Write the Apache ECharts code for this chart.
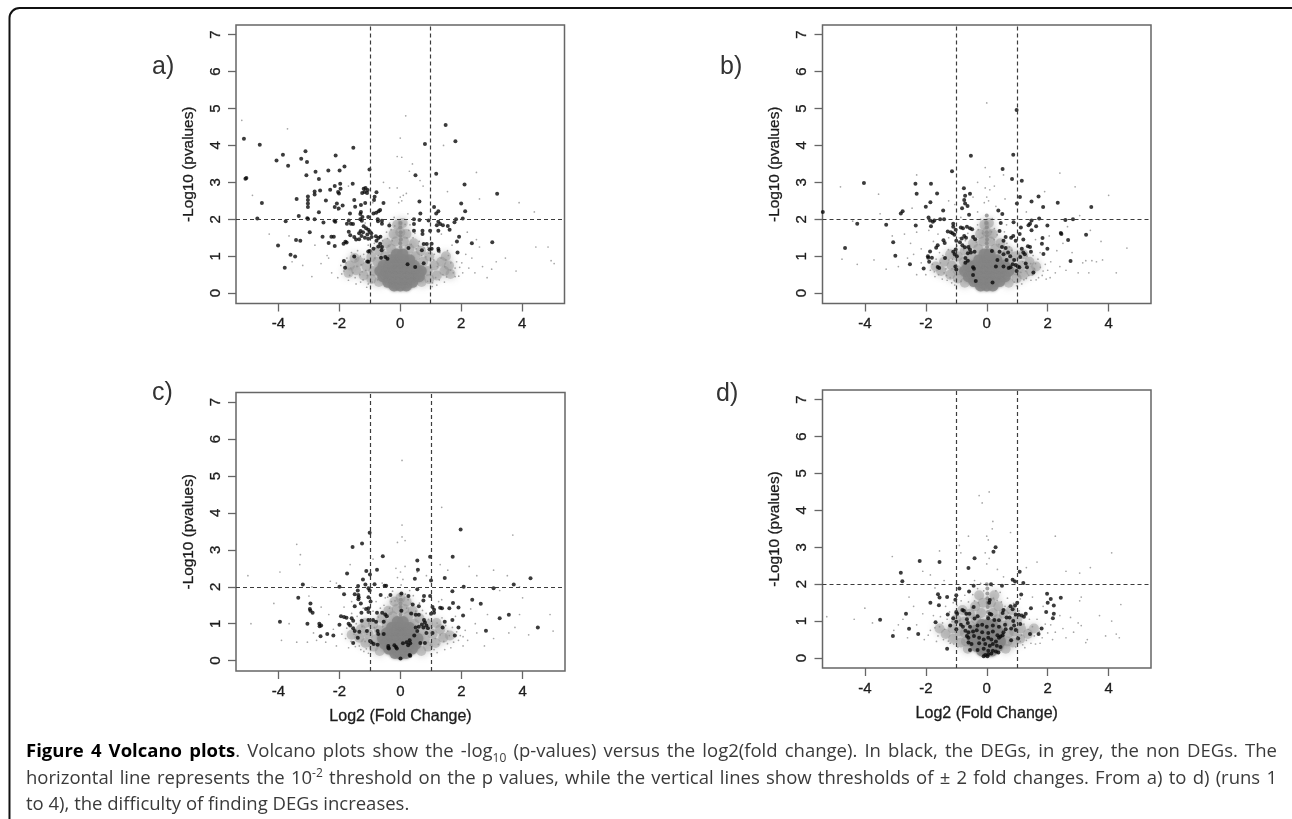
<!DOCTYPE html>
<html>
<head>
<meta charset="utf-8">
<title>Volcano plots</title>
<script src="https://cdn.jsdelivr.net/npm/echarts@6/dist/echarts.min.js"></script>
<style>
  html, body { margin: 0; padding: 0; background: #fff; overflow: hidden; }
  #chart { position: absolute; left: 0; top: 0; width: 1292px; height: 819px; filter: blur(0.35px); }
  .cap { position: absolute; left: 26px; width: 1251px; font: 18.5px/26px "Open Sans", sans-serif; color: #3a3a3a;
         text-align: justify; text-align-last: justify; white-space: nowrap; filter: blur(0.3px); }
  .cap b { color: #000; }
  .cap sub, .cap sup { font-size: 12px; line-height: 0; }
</style>
</head>
<body>
<div id="chart"></div>
<div class="cap" style="top:737px"><b>Figure 4 Volcano plots</b>. Volcano plots show the -log<sub>10</sub> (p-values) versus the log2(fold change). In black, the DEGs, in grey, the non DEGs. The</div>
<div class="cap" style="top:764px">horizontal line represents the 10<sup>-2</sup> threshold on the p values, while the vertical lines show thresholds of ± 2 fold changes. From a) to d) (runs 1</div>
<div class="cap" style="top:790px;text-align-last:left">to 4), the difficulty of finding DEGs increases.</div>
<script>
const xTicks = [-4, -2, 0, 2, 4]
const yTicks = [0, 1, 2, 3, 4, 5, 6, 7]
const pThreshold = 2
const foldThresholds = [-1, 1]
const xName = 'Log2 (Fold Change)'
const yName = '-Log10 (pvalues)'

// black points, DEGs
const degA = [[-5.13,4.18],[-4.61,4.02],[-5.08,3.1],[-5.05,3.12],[-4.54,2.44],[-4.69,2.02],[-4.06,3.59],[-3.85,3.75],[-3.68,3.45],[-3.11,3.84],[-3.25,3.64],[-3.06,3.55],[-3.08,3.19],[-2.78,3.29],[-2.67,3.09],[-2.36,3.32],[-1.99,3.32],[-1.83,3.43],[-2.12,3.73],[-1.54,3.94],[-1.01,3.35],[-1.56,2.96],[-1.97,2.96],[-2.15,2.9],[-1.96,2.83],[-2.3,2.8],[-2.04,2.74],[-2.01,2.7],[-2.63,2.78],[-2.81,2.75],[-2.81,2.67],[-3.03,2.62],[-3.4,2.55],[-3.03,2.52],[-3.03,2.43],[-3.03,2.33],[-2.44,2.51],[-2.08,2.43],[-2.15,2.33],[-2.02,2.29],[-1.89,2.37],[-2.67,2.19],[-3.33,2.09],[-3.05,2.03],[-3.03,2.01],[-2.81,2.0],[-3.76,1.95],[-2.52,1.91],[-2.16,1.96],[-2.13,1.93],[-1.65,2.16],[-1.51,2.52],[-1.29,2.39],[-1.15,2.44],[-1.48,2.34],[-1.25,2.71],[-1.2,2.83],[-1.14,2.85],[-1.07,2.79],[-1.17,2.74],[-1.09,2.71],[-0.78,2.73],[-0.84,2.61],[-0.86,2.52],[-0.55,2.44],[-0.66,2.25],[-0.71,2.22],[-0.79,2.18],[-0.88,2.16],[-1.29,2.2],[-1.31,2.14],[-1.24,2.06],[-1.05,2.06],[-0.74,2.0],[-0.73,1.95],[-0.6,1.96],[-0.6,1.88],[-1.31,2.0],[-1.26,1.96],[-1.69,1.97],[-1.62,1.88],[-1.75,1.88],[-1.55,1.87],[-1.69,1.66],[-1.64,1.57],[-1.51,1.52],[-1.2,1.81],[-1.12,1.76],[-1.05,1.72],[-1.0,1.66],[-0.95,1.62],[-1.08,1.59],[-1.22,1.65],[-1.3,1.68],[-1.35,1.62],[-1.27,1.55],[-1.16,1.5],[-1.05,1.47],[-0.94,1.52],[-0.8,1.54],[-0.72,1.49],[-0.65,1.53],[-0.78,1.42],[-0.66,1.34],[-0.6,1.25],[-0.72,1.26],[-1.0,1.14],[-1.05,1.13],[-0.88,1.2],[-0.61,1.16],[-1.35,1.46],[-1.45,1.45],[-1.86,1.34],[-1.8,1.39],[-1.76,1.37],[-4.01,1.29],[-3.6,1.04],[-3.45,0.99],[-3.79,0.69],[-3.42,1.44],[-3.28,1.42],[-2.97,1.65],[-2.55,1.53],[-2.26,1.53],[-2.18,1.53],[-2.35,1.36],[-2.15,1.28],[-1.51,0.99],[-1.85,0.87],[-1.81,0.69],[-1.04,0.85],[-1.08,0.86],[-0.63,0.96],[-0.49,0.98],[-0.42,0.93],[-0.36,1.83],[1.49,4.55],[1.81,4.11],[0.81,4.04],[0.5,3.19],[1.18,3.23],[2.11,2.94],[3.18,2.69],[0.63,2.48],[2.0,2.43],[1.11,2.33],[1.25,2.22],[2.13,2.22],[1.18,2.16],[0.66,2.16],[0.45,2.0],[0.63,1.98],[0.93,1.97],[1.83,2.0],[2.05,2.02],[1.25,1.93],[1.31,1.87],[1.2,1.84],[1.4,1.84],[1.78,1.92],[1.56,1.82],[1.62,1.72],[1.25,1.69],[0.98,1.69],[0.73,1.69],[0.73,1.6],[0.45,1.69],[0.45,1.87],[1.93,1.53],[1.86,1.4],[2.35,1.35],[3.02,1.38],[1.03,1.34],[0.77,1.33],[0.87,1.33],[0.71,1.16],[1.03,1.2],[0.96,1.19],[1.25,1.2],[1.26,1.15],[1.88,1.1],[0.77,0.81],[0.49,0.71],[0.24,0.78],[0.27,1.22]]
const degB = [[0.98,4.96],[-0.52,3.72],[0.87,3.75],[-1.14,3.3],[0.52,3.36],[0.83,3.09],[1.15,3.04],[-4.03,2.98],[-2.34,2.96],[-1.83,2.96],[-2.3,2.69],[-1.63,2.7],[-0.75,2.84],[-0.71,2.64],[-0.55,2.69],[-0.74,2.52],[-0.71,2.43],[-0.63,2.36],[-0.81,2.3],[-0.58,2.12],[-1.85,2.46],[-2.0,2.34],[-1.43,2.24],[-2.76,2.22],[-2.82,2.16],[-5.38,2.2],[-4.25,1.88],[-3.3,1.85],[-2.33,1.83],[-1.83,1.81],[-1.91,2.05],[-1.86,1.97],[-1.77,1.93],[-1.72,1.97],[-1.53,2.0],[-1.4,2.0],[1.09,2.6],[0.99,2.43],[1.47,2.48],[1.7,2.62],[2.33,2.45],[3.43,2.33],[1.85,2.33],[0.38,2.24],[0.51,2.14],[1.72,2.02],[1.47,1.97],[2.58,1.98],[2.83,2.0],[1.42,1.88],[1.37,1.84],[1.62,1.81],[1.99,1.83],[1.47,1.7],[2.43,1.63],[2.45,1.6],[3.26,1.58],[1.83,1.49],[2.67,1.44],[1.81,1.34],[1.99,1.2],[1.86,1.06],[2.75,0.87],[1.53,0.56],[-3.07,1.38],[-4.65,1.22],[-3.0,1.01],[-2.52,0.78],[-2.07,0.67],[-1.61,0.71],[-1.56,0.68],[-1.37,0.95],[-1.42,1.43],[-1.38,1.36],[-1.61,1.3],[-1.66,1.23],[-1.86,1.13],[-1.93,1.0],[-1.92,0.96],[-1.8,0.96],[-1.89,0.85],[0.19,0.29],[-0.36,0.33],[-0.45,0.49],[-1.1,1.88],[-1.1,1.8],[-0.85,1.78],[-0.78,1.76],[-0.65,1.8],[-0.55,1.76],[-0.48,1.73],[-1.02,1.72],[-1.28,1.67],[-1.18,1.65],[-1.12,1.62],[-1.06,1.58],[-0.74,1.55],[-0.68,1.5],[-0.82,1.48],[-0.45,1.52],[-0.38,1.46],[-1.0,1.42],[-0.88,1.38],[-0.8,1.3],[-0.72,1.24],[-1.02,1.18],[-1.1,1.12],[-1.05,1.05],[-0.98,1.0],[-0.6,1.25],[-0.55,1.18],[-0.52,1.1],[-0.62,1.08],[-0.4,1.12],[-0.7,0.95],[-0.62,0.88],[-0.7,0.82],[-0.45,0.7],[-0.42,0.66],[-1.03,0.72],[-1.0,0.64],[1.12,1.78],[1.08,1.6],[1.2,1.45],[0.87,1.55],[0.8,1.5],[0.95,1.42],[0.62,1.52],[0.55,1.42],[0.42,1.68],[0.46,1.9],[0.88,1.92],[0.5,1.25],[0.42,1.12],[0.62,1.22],[0.7,1.1],[0.55,1.05],[0.77,1.0],[0.65,0.9],[0.35,0.9],[0.3,0.72],[0.55,0.72],[0.72,0.68],[0.78,0.7],[0.85,0.78],[0.95,0.76],[1.02,0.72],[1.07,0.7],[0.98,0.6],[0.9,0.9],[1.15,1.2],[1.2,1.1],[1.25,1.05],[1.35,1.27],[1.42,1.25],[1.45,1.12],[1.1,0.98],[1.32,0.7],[0.17,1.14],[1.28,0.8]]
const degC = [[-1.01,3.46],[-1.57,3.08],[-1.26,3.17],[-0.58,2.83],[0.55,2.71],[0.97,2.81],[1.71,2.81],[1.97,3.55],[0.57,2.46],[-0.77,2.46],[-1.12,2.43],[-1.75,2.36],[-1.0,2.33],[0.47,2.22],[1.0,2.17],[1.45,2.24],[4.26,2.23],[-1.23,2.2],[-0.85,2.07],[-1.15,2.06],[-3.2,2.06],[3.71,2.06],[-1.39,2.02],[-0.52,2.03],[-0.47,2.03],[-2.0,2.0],[-1.05,1.96],[2.07,2.0],[3.05,1.96],[-1.01,1.9],[-1.4,1.9],[0.55,1.93],[1.7,1.88],[0.03,1.82],[-1.85,1.8],[-1.5,1.8],[-1.38,1.78],[-0.33,1.78],[-0.65,1.78],[-1.05,1.72],[-1.38,1.66],[-1.37,1.72],[0.26,1.75],[0.77,1.75],[0.97,1.75],[0.75,1.63],[2.35,1.65],[-3.35,1.7],[1.72,1.56],[2.63,1.54],[-2.95,1.55],[-1.3,1.55],[-0.98,1.6],[0.4,1.52],[0.6,1.47],[1.05,1.45],[1.3,1.43],[1.36,1.42],[1.6,1.42],[1.9,1.44],[-1.5,1.47],[-1.13,1.4],[-1.05,1.42],[-2.97,1.4],[-2.95,1.35],[-2.88,1.3],[-1.05,1.32],[-1.28,1.3],[-0.77,1.3],[-0.6,1.3],[-0.5,1.25],[-0.45,1.2],[0.03,1.35],[0.35,1.28],[0.5,1.24],[0.6,1.24],[1.0,1.27],[1.1,1.3],[1.1,1.38],[2.05,1.22],[3.55,1.24],[-1.95,1.2],[-1.85,1.18],[-1.77,1.16],[-1.6,1.15],[-1.55,1.08],[-1.27,1.08],[-1.05,1.1],[-0.9,1.1],[-0.8,1.05],[-0.55,1.05],[0.77,1.1],[0.8,1.03],[3.25,1.15],[1.7,1.1],[1.45,1.05],[-3.95,1.05],[-3.05,1.0],[-2.66,1.0],[-2.6,0.95],[-2.65,0.93],[-2.0,0.97],[-1.7,1.0],[-1.65,0.95],[-1.55,0.88],[0.6,0.92],[0.5,0.9],[0.7,0.98],[0.75,0.9],[0.85,0.95],[0.9,0.88],[1.9,0.9],[1.38,0.9],[4.5,0.9],[2.8,0.81],[-1.5,0.8],[-1.35,0.78],[-1.1,0.8],[-0.75,0.8],[-0.73,0.72],[-0.55,0.72],[0.45,0.68],[0.55,0.8],[0.85,0.75],[1.05,0.75],[1.78,0.68],[-2.62,0.66],[-2.4,0.72],[-2.2,0.68],[-1.4,0.62],[-1.55,0.48],[-1.0,0.53],[-0.95,0.5],[-0.88,0.45],[-0.75,0.43],[-0.4,0.4],[-0.4,0.35],[-0.38,0.33],[-0.2,0.42],[-0.15,0.37],[-0.12,0.33],[0.08,0.47],[0.2,0.5],[0.25,0.42],[0.3,0.55],[0.32,0.47],[0.65,0.48],[0.8,0.48],[0.3,0.15],[0.32,0.13],[0.0,0.06]]
const degD = [[0.29,3.0],[0.22,2.88],[-0.4,2.7],[-2.2,2.63],[-1.55,2.6],[-0.6,2.44],[-2.82,2.31],[-2.77,2.08],[1.08,2.34],[0.85,2.12],[0.93,2.07],[1.2,2.03],[0.14,2.0],[-0.43,1.96],[0.5,1.96],[-0.9,1.88],[1.98,1.74],[-1.6,1.73],[-1.55,1.64],[-1.3,1.65],[-1.0,1.7],[-1.03,1.58],[-0.58,1.8],[1.13,1.72],[2.43,1.63],[2.1,1.6],[0.1,1.57],[0.08,1.5],[-1.85,1.5],[1.0,1.5],[0.93,1.42],[2.0,1.5],[2.2,1.42],[-1.57,1.43],[0.78,1.4],[0.85,1.32],[1.45,1.35],[-0.8,1.3],[-0.75,1.28],[0.55,1.3],[0.52,1.22],[-1.0,1.25],[-0.97,1.2],[-0.43,1.38],[-0.67,1.2],[-0.57,1.2],[-0.3,1.13],[0.1,1.2],[0.15,1.18],[0.65,1.1],[0.95,1.18],[1.05,1.17],[1.15,1.15],[1.28,1.2],[1.22,1.12],[1.95,1.25],[2.2,1.2],[2.17,1.08],[-2.65,1.2],[-1.28,1.18],[-3.5,1.04],[-1.1,1.08],[-1.0,0.98],[-0.65,1.05],[-0.4,1.07],[0.05,1.08],[0.25,1.03],[0.4,1.02],[0.75,1.1],[0.87,1.0],[1.1,0.92],[0.9,0.88],[-1.68,0.97],[-1.2,0.88],[-1.0,0.78],[-0.85,0.9],[-0.78,0.85],[-0.62,0.95],[-0.55,0.85],[-0.3,0.88],[-0.15,0.9],[0.0,0.85],[0.2,0.88],[0.4,0.85],[0.6,0.9],[0.8,0.8],[0.95,0.76],[1.8,0.8],[-2.55,0.79],[-0.7,0.74],[-0.6,0.7],[-0.45,0.72],[-0.33,0.75],[-0.15,0.7],[0.05,0.68],[0.2,0.72],[0.35,0.62],[0.45,0.58],[0.52,0.62],[0.55,0.7],[0.62,0.78],[1.42,0.65],[1.7,0.65],[-2.25,0.65],[-3.08,0.6],[-0.65,0.6],[-0.6,0.55],[-0.42,0.6],[-0.25,0.55],[-0.1,0.5],[0.05,0.55],[0.15,0.5],[0.3,0.45],[0.4,0.55],[0.8,0.48],[1.03,0.53],[-0.6,0.42],[-0.5,0.38],[-0.25,0.4],[-0.05,0.38],[0.1,0.33],[0.2,0.38],[0.33,0.33],[0.45,0.3],[-1.3,0.25],[-0.55,0.22],[-0.3,0.22],[-0.1,0.25],[0.05,0.2],[0.2,0.2],[0.3,0.18],[0.38,0.15],[0.15,0.12],[-0.1,0.05],[-0.05,0.08],[0.02,0.05],[0.05,0.1]]

// dense centre of each cloud
const coreA = [[-0.2,0.2],[0,0.2],[0.2,0.2],[-0.4,0.3],[-0.2,0.3],[0,0.3],[0.2,0.3],[0.4,0.3],[-0.56,0.45],[-0.35,0.45],[-0.15,0.45],[0.05,0.45],[0.25,0.45],[0.45,0.45],[0.62,0.45],[-0.66,0.6],[-0.45,0.6],[-0.25,0.6],[-0.05,0.6],[0.15,0.6],[0.35,0.6],[0.55,0.6],[0.68,0.6],[-0.55,0.75],[-0.35,0.75],[-0.15,0.75],[0.05,0.75],[0.25,0.75],[0.45,0.75],[-0.3,0.9],[-0.1,0.9],[0.1,0.9],[0.3,0.9],[-0.12,1.05],[0.08,1.05]]
const coreB = [[-0.2,0.2],[0,0.2],[0.2,0.2],[-0.42,0.32],[-0.2,0.32],[0,0.32],[0.2,0.32],[0.42,0.32],[-0.6,0.45],[-0.4,0.45],[-0.2,0.45],[0,0.45],[0.2,0.45],[0.4,0.45],[0.6,0.45],[-0.72,0.6],[-0.5,0.6],[-0.3,0.6],[-0.1,0.6],[0.1,0.6],[0.3,0.6],[0.5,0.6],[0.72,0.6],[-0.6,0.75],[-0.4,0.75],[-0.2,0.75],[0,0.75],[0.2,0.75],[0.4,0.75],[0.58,0.75],[-0.25,0.9],[-0.05,0.9],[0.15,0.9],[0.32,0.9],[-0.08,1.05],[0.1,1.05]]
const coreC = [[-0.18,0.2],[0,0.18],[0.18,0.2],[-0.38,0.32],[-0.18,0.32],[0,0.32],[0.18,0.32],[0.38,0.32],[-0.52,0.45],[-0.32,0.45],[-0.12,0.45],[0.08,0.45],[0.28,0.45],[0.5,0.45],[-0.58,0.6],[-0.4,0.6],[-0.2,0.6],[0,0.6],[0.2,0.6],[0.4,0.6],[0.56,0.6],[-0.45,0.75],[-0.25,0.75],[-0.05,0.75],[0.15,0.75],[0.35,0.75],[-0.28,0.9],[-0.08,0.9],[0.12,0.9],[0.28,0.9],[-0.1,1.05],[0.08,1.05]]
const coreD = [[-0.16,0.2],[0.02,0.18],[0.18,0.2],[-0.34,0.32],[-0.16,0.32],[0.02,0.32],[0.2,0.32],[0.36,0.32],[-0.45,0.45],[-0.28,0.45],[-0.1,0.45],[0.08,0.45],[0.26,0.45],[0.44,0.45],[-0.5,0.6],[-0.32,0.6],[-0.14,0.6],[0.04,0.6],[0.22,0.6],[0.4,0.6],[-0.36,0.75],[-0.18,0.75],[0,0.75],[0.18,0.75],[0.34,0.75],[-0.16,0.9],[0.02,0.9],[0.18,0.9]]

// narrow column above the centre
const spireA = [[0.02,1.15],[0.01,1.25],[0,1.35],[0.02,1.45],[0,1.55],[0.01,1.65],[0,1.78],[0.01,1.9]]
const spireB = [[0,1.15],[0.01,1.25],[0,1.35],[0.01,1.45],[0,1.55],[0,1.65],[0,1.78],[-0.01,1.9],[0,2.1]]
const spireC = [[0,1.15],[0,1.25],[0.01,1.35],[0,1.45],[0,1.55],[0.01,1.65],[0,1.78]]
const spireD = [[0.02,1.0],[0.03,1.12],[0.04,1.25],[0.03,1.38],[0.03,1.5],[0.02,1.62],[0.02,1.75],[0.02,1.88],[0,2.0]]

// halo round the centre, drawn see-through
const hazeA = [[-0.7,0.3],[0.7,0.3],[-0.95,0.38],[0.95,0.38],[-1.2,0.48],[1.2,0.48],[-1.45,0.62],[1.45,0.6],[-0.88,0.6],[0.9,0.6],[-1.1,0.72],[1.12,0.75],[-1.35,0.85],[1.35,0.85],[-1.65,0.75],[1.6,0.75],[-0.75,0.85],[0.75,0.85],[-0.95,0.98],[0.95,1.0],[-0.5,1.0],[0.5,1.0],[-0.7,1.15],[0.68,1.15],[-0.3,1.2],[0.3,1.2],[-0.45,1.35],[0.45,1.35],[-0.15,1.4],[0.12,1.4],[-0.22,1.6],[0.2,1.6],[0,1.65],[-0.1,1.85],[0.08,1.9],[-1.7,0.55],[1.65,0.52],[-1.5,0.95],[1.5,1.0]]
const hazeB = [[-0.72,0.28],[0.72,0.28],[-0.95,0.4],[0.98,0.4],[-1.2,0.5],[1.2,0.5],[-1.5,0.6],[1.45,0.6],[-0.95,0.62],[0.95,0.62],[-1.15,0.75],[1.15,0.75],[-1.4,0.85],[1.4,0.85],[-0.75,0.85],[0.75,0.85],[-0.95,1.0],[0.95,1.0],[-0.5,1.02],[0.5,1.02],[-0.72,1.15],[0.7,1.15],[-0.28,1.2],[0.28,1.2],[-0.45,1.35],[0.45,1.35],[-0.12,1.4],[0.12,1.4],[-0.22,1.6],[0.2,1.6],[0,1.65],[-0.08,1.85],[0.07,1.9],[-1.68,0.72],[1.62,0.72],[-1.2,1.05],[1.2,1.05]]
const hazeC = [[-0.68,0.26],[0.68,0.26],[-0.88,0.38],[0.9,0.38],[-1.15,0.48],[1.15,0.48],[-1.35,0.62],[1.4,0.62],[-0.8,0.58],[0.8,0.58],[-1.05,0.72],[1.05,0.72],[-1.3,0.85],[1.3,0.85],[-0.7,0.82],[0.7,0.82],[-0.9,0.98],[0.9,0.98],[-0.45,1.0],[0.45,1.0],[-0.62,1.15],[0.62,1.15],[-0.25,1.2],[0.25,1.2],[-0.4,1.35],[0.4,1.35],[-0.12,1.4],[0.12,1.4],[-0.2,1.6],[0.2,1.6],[0,1.7],[-1.6,0.7],[1.62,0.68],[-1.15,1.02],[1.18,1.02]]
const hazeD = [[-0.62,0.25],[0.62,0.25],[-0.68,0.45],[0.68,0.45],[-0.85,0.42],[0.85,0.42],[-1.1,0.52],[1.1,0.52],[-1.35,0.65],[1.35,0.65],[-0.72,0.68],[0.72,0.68],[-0.9,0.72],[0.9,0.72],[-1.12,0.8],[1.12,0.8],[-0.55,0.88],[0.55,0.88],[-0.75,0.98],[0.75,0.98],[-1.0,1.05],[1.0,1.05],[-0.35,1.05],[0.35,1.05],[-0.55,1.2],[0.55,1.2],[-0.18,1.22],[0.2,1.22],[-0.38,1.4],[0.38,1.4],[-0.8,1.3],[0.8,1.3],[-0.12,1.5],[0.14,1.5],[-0.25,1.7],[0.25,1.7],[-1.55,0.8],[1.55,0.8]]

// thin grey points, the non DEGs away from the centre
const greyA = [[-5.2,4.68],[-3.7,4.45],[0.18,4.8],[0,4.2],[1.42,4],[2.5,3.27],[-0.1,3.7],[0.05,3.68],[0.4,3.5],[0.3,3.3],[-0.55,3],[-0.35,2.85],[-0.1,2.85],[0,2.6],[0.1,2.65],[-0.05,2.45],[0.05,2.5],[0.2,2.7],[0.75,2.9],[1.55,2.75],[2.6,2.55],[3.9,2.45],[4.4,2.2],[-4.85,2.65],[-2.05,2.25],[-3.65,1.55],[-2.8,1.3],[-2.4,1.02],[-3.2,0.75],[-2.9,0.45],[-2.6,0.8],[-2.25,0.55],[-2.35,0.95],[-2.05,0.42],[-1.95,0.75],[-1.85,0.6],[-1.7,0.35],[-1.75,0.95],[-1.6,1.1],[-1.55,0.55],[-1.45,0.92],[-1.4,1.15],[-1.3,0.3],[-1.25,0.58],[-1.2,1.05],[-1.05,0.25],[-1.05,1.3],[-0.85,1.35],[-0.65,1.55],[-0.45,1.65],[-0.35,1.9],[-0.2,2.05],[0.25,2.15],[0.32,1.85],[0.48,1.62],[0.62,1.4],[0.9,1.25],[1.12,1.05],[1.3,1.1],[1.5,0.9],[1.55,1.15],[1.7,1.3],[1.65,0.62],[1.8,0.45],[1.85,0.85],[1.95,0.7],[2.05,0.55],[2.15,1.05],[2.25,0.68],[2.35,0.95],[2.45,0.55],[2.6,1.25],[2.7,0.72],[2.85,0.42],[3,0.65],[3.15,0.85],[3.45,0.95],[3.8,0.6],[4.45,1.25],[4.85,1.25],[4.95,0.88],[5.05,0.8],[2.2,1.65],[2.5,1.45],[1.35,1.6],[-1.15,1.9],[-0.9,2.45],[-1.7,2.9],[-3.55,0.85],[-4.3,1.6],[-1.45,0.25],[1.45,0.3],[1.2,0.22],[-1.1,0.16],[1.05,0.18],[0.65,3.05],
  [-1.92,0.52],[-1.78,0.82],[-1.66,0.48],[-1.62,0.68],[-1.53,1.02],[-1.48,0.42],[-1.42,0.72],[-1.33,0.5],[-1.31,1.0],[-1.28,0.77],[-1.22,0.36],[-1.18,0.92],[-1.13,0.62],[-1.08,0.48],[-1.02,1.08],[-0.96,0.78],[-0.92,0.3],[-0.9,1.12],[-0.84,0.95],[-0.8,1.22],[-0.74,0.36],[-0.72,1.02],[-0.62,1.28],[-0.58,1.42],[-0.52,1.18],[-0.42,1.48],[-0.38,1.28],[-0.3,1.72],[-0.26,1.42],[-0.18,1.82],[0.16,1.86],[0.22,1.5],[0.28,1.7],[0.36,1.32],[0.42,1.5],[0.52,1.2],[0.6,1.28],[0.7,1.02],[0.78,1.22],[0.84,0.98],[0.9,0.32],[0.94,1.08],[1.02,0.7],[1.06,0.28],[1.1,0.9],[1.16,0.42],[1.22,0.72],[1.28,0.36],[1.34,0.95],[1.4,0.5],[1.46,0.72],[1.52,0.44],[1.58,1.02],[1.66,0.82],[1.74,0.55],[1.8,0.68],[1.92,0.46],[2.02,0.82]]
const greyB = [[0,5.15],[0.55,3.2],[-0.05,3.4],[0.1,3.15],[-0.3,3.0],[0.25,2.9],[-0.05,2.85],[0.1,2.8],[0,2.6],[-0.08,2.45],[0.06,2.5],[-4.8,2.88],[-3.55,2.68],[-2.3,3.2],[2.4,3.25],[2.9,2.88],[4,2.65],[1.9,2.75],[-1.25,2.5],[-1.05,2.4],[-0.3,2.2],[0.3,2.35],[0.65,1.85],[-0.3,1.85],[0.25,1.75],[-3.5,2.15],[-3.2,2.0],[-4.4,1.95],[-3.1,1.55],[-2.7,1.6],[-2.5,1.35],[-2.3,1.65],[-2.15,1.2],[-2.4,1.05],[-3.7,0.9],[-4.75,0.92],[-4.25,0.78],[-3.3,0.65],[-2.9,0.72],[-2.6,0.95],[-2.3,0.5],[-2.15,0.82],[-2.0,0.5],[-1.85,0.62],[-1.7,0.45],[-1.55,1.1],[-1.4,0.55],[-1.3,0.35],[-1.25,1.5],[-1.15,0.28],[-1.05,0.22],[0.98,0.2],[1.15,0.25],[1.3,0.4],[1.45,0.35],[1.6,0.8],[1.7,0.42],[1.85,0.6],[1.95,0.38],[2.1,0.85],[2.25,0.55],[2.3,1.15],[2.4,0.72],[2.5,1.35],[2.6,0.62],[2.8,1.1],[3.0,0.55],[3.15,0.82],[3.25,0.88],[3.35,0.55],[3.45,0.88],[3.6,0.85],[3.75,1.4],[3.8,0.9],[4.25,0.55],[4.6,1.22],[3.4,1.7],[2.65,1.8],[3.05,2.1],[1.3,2.2],[-1.6,1.6],[-1.75,1.4],[-1.9,1.7],[1.75,1.1],[2.05,1.55],[1.6,1.45],[-0.85,2.05],[-0.45,2.6],[0.6,2.55],[-2.45,2.3],
  [-1.78,0.78],[-1.72,0.58],[-1.66,0.92],[-1.58,0.5],[-1.52,0.82],[-1.46,0.38],[-1.44,1.02],[-1.34,0.66],[-1.32,0.48],[-1.26,1.18],[-1.24,0.9],[-1.2,0.42],[-1.14,0.66],[-1.12,0.92],[-1.06,0.34],[-0.98,1.28],[-0.9,1.5],[-0.84,0.32],[-0.76,1.18],[-0.7,1.42],[-0.62,1.62],[-0.56,1.3],[-0.42,1.56],[-0.34,1.38],[-0.28,1.72],[-0.2,2.0],[-0.14,1.62],[0.16,1.66],[0.18,2.02],[0.24,1.45],[0.34,1.58],[0.4,1.32],[0.58,1.66],[0.66,1.35],[0.74,1.25],[0.82,1.16],[0.9,0.3],[1.04,0.46],[1.08,1.04],[1.12,0.56],[1.18,0.85],[1.22,0.36],[1.28,0.6],[1.32,1.0],[1.38,0.48],[1.44,0.8],[1.5,0.5],[1.52,1.02],[1.56,0.66],[1.62,0.36],[1.68,0.92],[1.76,0.7],[1.82,0.48],[1.92,0.78],[2.0,0.62],[2.08,0.42]]
const greyC = [[0.05,5.42],[1.35,4.15],[0.05,3.67],[0.05,3.35],[-0.1,3.2],[0.15,3.25],[3.68,3.4],[-3.4,3.15],[-3.28,2.87],[-3.3,2.6],[-5.0,2.3],[-3.95,2.4],[-2.9,2.0],[-3.0,1.75],[-2.3,2.15],[-2.1,2.1],[-1.65,2.6],[-0.9,2.75],[-0.15,2.5],[0,2.4],[0.15,2.55],[-0.1,2.25],[0.08,2.2],[0.02,2.05],[0.55,2.4],[0.85,2.3],[1.3,2.6],[1.55,2.45],[2.25,2.55],[2.5,2.3],[3.05,2.45],[3.5,2.3],[3.25,1.9],[3.9,2.0],[4.0,1.7],[3.9,1.25],[4.9,1.25],[5.0,0.8],[4.2,0.7],[3.75,0.9],[3.55,0.75],[3.05,0.6],[2.85,1.25],[2.75,0.4],[2.45,1.0],[2.5,0.75],[2.3,1.4],[2.2,0.55],[2.05,0.65],[2.05,0.4],[1.9,0.55],[1.8,1.2],[1.65,0.35],[1.55,0.8],[1.45,0.3],[1.35,1.65],[1.25,1.6],[1.2,0.22],[1.0,0.18],[-1.05,0.2],[-1.2,0.25],[-1.35,0.4],[-1.45,1.0],[-1.7,0.35],[-1.8,0.6],[-1.85,1.45],[-2.1,0.4],[-2.2,0.85],[-2.35,1.25],[-2.45,0.5],[-2.6,1.45],[-2.75,0.55],[-2.85,0.75],[-3.05,0.5],[-3.4,0.5],[-3.65,1.0],[-3.9,0.55],[-4.15,1.55],[-4.9,1.0],[-1.6,1.6],[-0.6,2.1],[-0.5,1.7],[0.3,1.9],[0.25,1.65],[-0.3,1.6],
  [-1.92,0.72],[-1.76,0.88],[-1.62,0.52],[-1.6,1.28],[-1.52,0.72],[-1.48,0.38],[-1.42,1.2],[-1.36,0.6],[-1.3,0.3],[-1.26,0.92],[-1.22,1.42],[-1.16,0.52],[-1.12,0.32],[-1.1,0.72],[-1.04,1.02],[-0.98,0.28],[-0.9,1.34],[-0.86,0.9],[-0.8,1.6],[-0.72,1.18],[-0.66,1.42],[-0.58,0.92],[-0.54,1.5],[-0.42,1.72],[-0.36,1.42],[-0.26,1.88],[-0.18,1.62],[0.16,1.8],[0.2,1.42],[0.34,1.56],[0.42,1.76],[0.5,1.34],[0.62,1.56],[0.72,1.36],[0.84,1.28],[0.92,1.12],[0.98,0.42],[1.04,0.9],[1.1,0.3],[1.14,0.6],[1.2,1.02],[1.24,0.44],[1.3,0.7],[1.36,1.16],[1.42,0.52],[1.48,0.95],[1.54,0.46],[1.6,0.68],[1.7,0.9],[1.74,0.5],[1.84,0.78],[1.96,0.68],[2.12,0.82]]
const greyD = [[0.08,4.5],[-0.25,4.4],[-0.15,4.2],[0.2,3.7],[0.18,3.5],[0,3.3],[0.05,3.2],[-0.6,3.3],[0.78,3.4],[2.25,3.3],[-3.1,2.75],[-1.55,2.9],[-0.9,3.05],[-0.85,2.85],[-0.05,2.85],[0.08,2.7],[0,2.55],[1.65,2.6],[1.3,2.45],[4.1,2.85],[3.4,2.45],[2.6,2.35],[3.05,2.3],[-2.1,2.35],[-1.85,2.25],[-1.4,2.1],[-0.4,2.1],[0.35,2.4],[0.55,2.2],[-4.0,1.35],[-4.35,1.05],[-5.25,1.12],[-3.75,0.95],[-3.05,0.75],[-2.9,0.9],[-2.75,1.05],[-2.6,0.55],[-2.4,1.4],[-2.3,0.9],[-2.1,1.2],[-2.05,0.5],[-1.85,0.75],[-1.75,1.15],[-1.65,0.45],[-1.55,0.85],[-1.45,0.95],[-1.35,1.4],[-1.2,0.4],[-1.1,1.5],[-0.95,0.3],[0.95,0.3],[1.1,0.45],[1.25,0.28],[1.45,0.4],[1.5,0.85],[1.65,1.05],[1.75,0.4],[1.85,1.4],[2.1,0.9],[2.25,0.7],[2.4,1.15],[2.5,0.8],[2.6,0.55],[2.75,1.1],[2.85,0.7],[3.0,0.95],[3.1,0.88],[3.25,0.42],[3.3,0.5],[3.7,1.15],[3.9,0.6],[4.1,1.0],[4.25,0.65],[4.35,0.55],[4.4,1.45],[3.05,1.55],[3.1,1.65],[5.4,1.45],[-2.55,1.65],[-1.7,1.9],[1.5,1.65],[1.1,1.6],
  [-1.92,0.62],[-1.7,0.82],[-1.6,0.6],[-1.52,1.12],[-1.42,0.5],[-1.38,0.78],[-1.3,1.05],[-1.26,0.46],[-1.22,1.25],[-1.14,0.98],[-1.08,0.38],[-1.05,1.22],[-0.98,1.42],[-0.9,1.02],[-0.84,1.55],[-0.72,1.7],[-0.7,1.22],[-0.6,1.52],[-0.5,1.36],[-0.46,1.72],[-0.4,1.55],[-0.3,1.88],[-0.28,1.5],[-0.2,2.02],[-0.1,1.82],[0.18,1.95],[0.22,1.62],[0.3,1.82],[0.34,1.56],[0.44,1.78],[0.48,1.52],[0.6,1.4],[0.68,1.62],[0.72,1.22],[0.88,1.48],[0.92,1.14],[1.02,0.4],[1.06,1.28],[1.14,0.62],[1.18,0.36],[1.22,0.92],[1.3,0.48],[1.36,0.78],[1.4,1.05],[1.56,0.6],[1.6,0.38],[1.72,0.72],[1.82,0.55],[1.92,0.92],[2.0,0.68],[2.16,0.5]]

const panels = [
  { deg: degA, core: coreA, spire: spireA, haze: hazeA, grey: greyA, left: 236, top: 25, right: 564.5, bottom: 303.5, ymin: -0.28, ymax: 7.26, letter: 'a)', lx: 152, ly: 80, showX: false },
  { deg: degB, core: coreB, spire: spireB, haze: hazeB, grey: greyB, left: 822.5, top: 25, right: 1151, bottom: 303.5, ymin: -0.28, ymax: 7.26, letter: 'b)', lx: 720, ly: 80, showX: false },
  { deg: degC, core: coreC, spire: spireC, haze: hazeC, grey: greyC, left: 236, top: 392.5, right: 565, bottom: 671, ymin: -0.28, ymax: 7.26, letter: 'c)', lx: 152, ly: 406, showX: true },
  { deg: degD, core: coreD, spire: spireD, haze: hazeD, grey: greyD, left: 822.5, top: 390, right: 1151, bottom: 668, ymin: -0.27, ymax: 7.26, letter: 'd)', lx: 716, ly: 407, showX: true }
]

const axisFont = 'Liberation Sans, Arial, sans-serif'
const axisText = { fontFamily: axisFont, color: '#1c1c1c', textBorderColor: '#1c1c1c', textBorderWidth: 0.3 }
const chart = echarts.init(document.getElementById('chart'))

const grids = []
const xAxes = []
const yAxes = []
const series = []
const letters = []

panels.forEach((p, i) => {
  grids.push({
    show: true, left: p.left, top: p.top, width: p.right - p.left, height: p.bottom - p.top,
    borderColor: '#666', borderWidth: 1.5, backgroundColor: '#fff'
  })
  xAxes.push({
    gridIndex: i, type: 'value', min: -5.39, max: 5.39,
    name: p.showX ? xName : '', nameLocation: 'middle', nameGap: 38,
    nameTextStyle: { ...axisText, fontSize: 16 },
    axisLine: { show: false, onZero: false },
    axisTick: { show: true, length: 8, customValues: xTicks, lineStyle: { color: '#666', width: 1.3 } },
    axisLabel: { ...axisText, customValues: xTicks, margin: 13, fontSize: 15, formatter: v => String(v) },
    splitLine: { show: false }
  })
  yAxes.push({
    gridIndex: i, type: 'value', min: p.ymin, max: p.ymax,
    name: yName, nameLocation: 'middle', nameGap: 40,
    nameTextStyle: { ...axisText, fontSize: 15.4 },
    axisLine: { show: false, onZero: false },
    axisTick: { show: true, length: 8, customValues: yTicks, lineStyle: { color: '#666', width: 1.3 } },
    axisLabel: { ...axisText, customValues: yTicks, rotate: 90, margin: 13, fontSize: 15, formatter: v => String(v) },
    splitLine: { show: false }
  })
  const common = { type: 'scatter', xAxisIndex: i, yAxisIndex: i, silent: true, animation: false }
  series.push(
    { ...common, data: p.haze, symbolSize: 10, itemStyle: { color: '#8c8c8c', opacity: 0.42, shadowBlur: 7, shadowColor: '#8c8c8c' } },
    { ...common, data: p.grey, symbolSize: 1.7, itemStyle: { color: '#8f8f8f' } },
    { ...common, data: p.spire, symbolSize: 4, itemStyle: { color: '#8a8a8a' } },
    { ...common, data: p.core, symbolSize: 11.5, itemStyle: { color: '#848484', shadowBlur: 3, shadowColor: '#848484' } },
    {
      ...common, data: p.deg, symbolSize: 4, itemStyle: { color: '#0a0a0a' },
      markLine: {
        silent: true, symbol: 'none', animation: false, label: { show: false },
        lineStyle: { color: '#3c3c3c', type: [4, 3], width: 1.2 },
        data: [{ yAxis: pThreshold }].concat(foldThresholds.map(v => ({ xAxis: v })))
      }
    }
  )
  letters.push({
    type: 'text', x: p.lx, y: p.ly, silent: true,
    style: { text: p.letter, fontFamily: axisFont, fontSize: 25, fill: '#333', verticalAlign: 'bottom' }
  })
})

chart.setOption({
  animation: false,
  backgroundColor: '#fff',
  grid: grids,
  xAxis: xAxes,
  yAxis: yAxes,
  series: series,
  graphic: [{
    type: 'rect', silent: true,
    shape: { x: 9.5, y: 8, width: 1300, height: 900, r: 10 },
    style: { fill: 'none', stroke: '#111', lineWidth: 2 }
  }].concat(letters)
})
</script>
</body>
</html>
